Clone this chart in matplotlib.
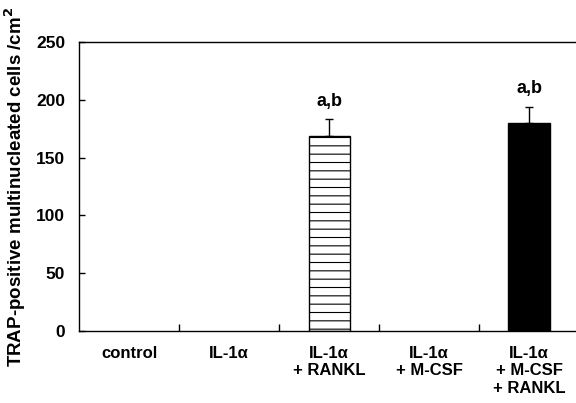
import matplotlib.pyplot as plt
import numpy as np

plt.rcParams['font.family'] = ['Liberation Sans', 'DejaVu Sans']
plt.rcParams['font.weight'] = 'bold'
plt.rcParams['hatch.linewidth'] = 0.8
plt.rcParams['hatch.color'] = '#555555'

# data
groups = ['control', 'IL-1\u03b1', 'IL-1\u03b1\n+ RANKL', 'IL-1\u03b1\n+ M-CSF',
          'IL-1\u03b1\n+ M-CSF\n+ RANKL']
values = [0, 0, 169, 0, 180]
errors = [0, 0, 14, 0, 14]
marks = ['', '', 'a,b', '', 'a,b']
y_ticks = [0, 50, 100, 150, 200, 250]

fig = plt.figure(figsize=(5.76, 4.03), dpi=100)
ax = fig.add_axes([79 / 576, 1 - 331 / 403, 500 / 576, 289 / 403])

x = np.arange(len(groups)) + 0.5
for i in range(len(groups)):
    if values[i] == 0:
        continue
    if i == 2:
        ax.bar(x[i], values[i], width=0.41, color='white', edgecolor='black',
               linewidth=1.0, hatch='--', zorder=2)
    else:
        ax.bar(x[i], values[i], width=0.42, color='black', edgecolor='black',
               linewidth=1.0, zorder=2)
    ax.errorbar(x[i], values[i], yerr=[[0], [errors[i]]], color='black',
                elinewidth=1.0, capsize=3, capthick=1.0, zorder=3)
    ax.text(x[i], values[i] + errors[i] + 8, marks[i], ha='center', va='bottom',
            fontsize=13, fontweight='bold')

ax.set_xlim(0, 5)
ax.set_ylim(0, 250)
ax.set_yticks(y_ticks)
ax.set_yticklabels([str(t) for t in y_ticks], fontsize=12.5, fontweight='bold')
ax.set_xticks([1, 2, 3, 4])
ax.set_xticklabels([])
ax.tick_params(axis='y', direction='in', length=4, width=1, pad=10)
ax.tick_params(axis='x', direction='in', length=5, width=1)

for i, g in enumerate(groups):
    ax.text(x[i], -13, g, ha='center', va='top', fontsize=12,
            fontweight='bold', linespacing=1.2)

ax.spines['right'].set_visible(False)
for s in ['left', 'bottom', 'top']:
    ax.spines[s].set_linewidth(1.0)

ax.set_ylabel('TRAP-positive multinucleated cells /cm$^\\mathbf{2}$', fontsize=13.5,
              fontweight='bold')
ax.yaxis.set_label_coords(-0.102, 0.5)

fig.savefig('out.png', dpi=100)
